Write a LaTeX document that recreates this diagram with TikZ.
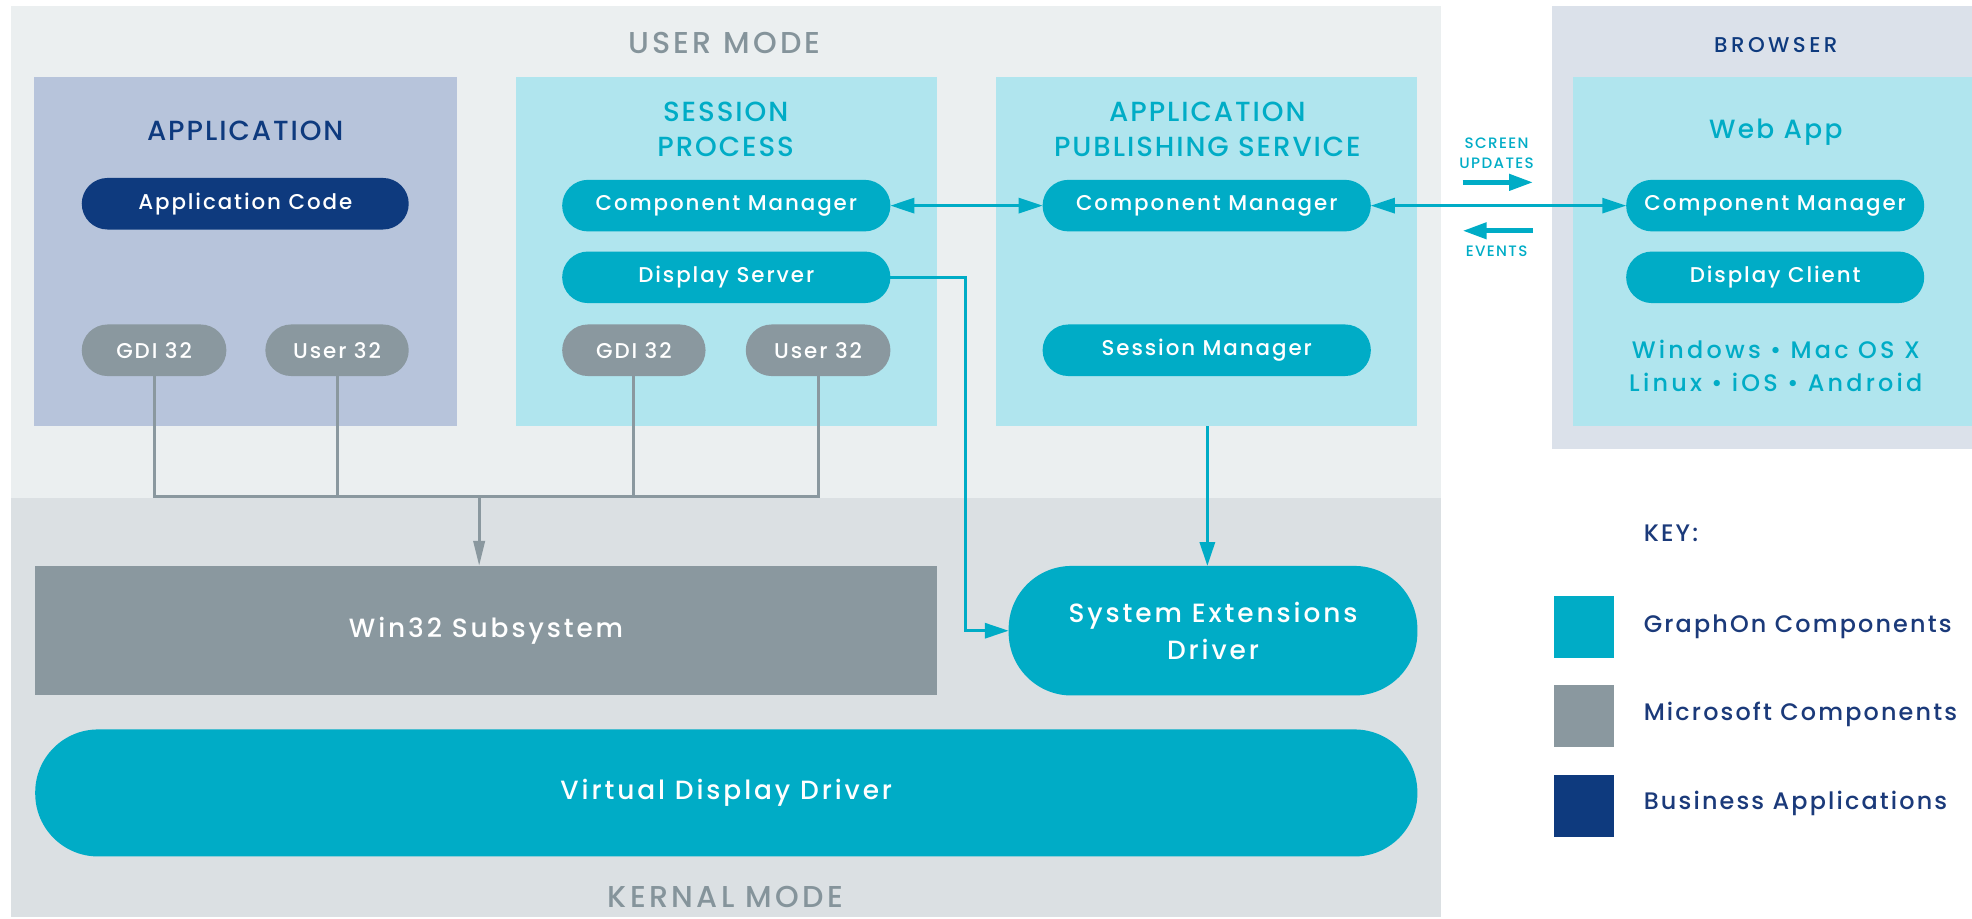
\documentclass[tikz,border=0pt]{standalone}
\usepackage{fontspec}
\setmainfont{Poppins}
\newfontfamily\fmed{Poppins Medium}[LetterSpace=9]
\newfontfamily\fmedt{Poppins Medium}[LetterSpace=7]
\newfontfamily\fmedw{Poppins Medium}[LetterSpace=11]
\newfontfamily\fmedp{Poppins Medium}[LetterSpace=13.5]
\newfontfamily\fmedb{Poppins Medium}[LetterSpace=16]
\usetikzlibrary{arrows.meta}
\definecolor{usrbg}{HTML}{EBEFF0}
\definecolor{kerbg}{HTML}{DBE0E3}
\definecolor{appbg}{HTML}{B7C4DB}
\definecolor{navy}{HTML}{0E3A7E}
\definecolor{lcyan}{HTML}{B0E5EE}
\definecolor{gcyan}{HTML}{00ACC6}
\definecolor{mgray}{HTML}{8A989F}
\definecolor{brbg}{HTML}{DBE1EA}
\definecolor{modetxt}{HTML}{85949B}
\definecolor{dtxt}{HTML}{1B3A7A}
\newcommand\pilltxt{\fmed\fontsize{17}{20}\selectfont}
\newcommand\titletxt{\fmedt\fontsize{22}{28}\selectfont}
\newcommand\modetxtf{\fmedw\fontsize{24}{28}\selectfont}
\newcommand\bigtxt{\fmedw\fontsize{21}{29}\selectfont}
\newcommand\smalltxt{\fmed\fontsize{12}{16}\selectfont}
\newcommand\keytxt{\fmed\fontsize{19}{24}\selectfont}
\begin{document}
\begin{tikzpicture}[x=1pt,y=-1pt,
  area/.style={rectangle,inner sep=0pt,outer sep=0pt,draw=none},
  pill/.style={rectangle,rounded corners=20.5pt,inner sep=0pt,outer sep=0pt,
    minimum height=41pt,text=white,font=\pilltxt},
  bigpill/.style={rectangle,rounded corners=50pt,inner sep=0pt,outer sep=0pt,
    fill=gcyan,text=white,font=\bigtxt,align=center},
  lbl/.style={inner sep=0pt,outer sep=0pt,align=center},
  garrow/.style={draw=mgray,line width=2.4pt,-{Triangle[length=20pt,width=9pt]}},
  gline/.style={draw=mgray,line width=2.4pt},
  carrow/.style={draw=gcyan,line width=2.4pt,-{Triangle[length=19pt,width=12pt]}},
  cdarrow/.style={draw=gcyan,line width=2.2pt,{Triangle[length=19pt,width=12pt]}-{Triangle[length=19pt,width=12pt]}},
  flowarrow/.style={draw=gcyan,line width=3.8pt,-{Triangle[length=19pt,width=12.5pt]}},
]
\useasboundingbox (0,0) rectangle (1568,730);
% mode backgrounds
\node[area,fill=usrbg,minimum width=1137pt,minimum height=391pt,anchor=north west] (usr) at (9,5) {};
\node[area,fill=kerbg,minimum width=1137pt,minimum height=333pt,anchor=north west] (ker) at (9,396) {};
\node[area,fill=brbg,minimum width=334pt,minimum height=352pt,anchor=north west] (brw) at (1234,5) {};
% component areas
\node[area,fill=appbg,minimum width=336pt,minimum height=278pt,anchor=north west] (app) at (27,61) {};
\node[area,fill=lcyan,minimum width=335pt,minimum height=278pt,anchor=north west] (sess) at (410,61) {};
\node[area,fill=lcyan,minimum width=335pt,minimum height=278pt,anchor=north west] (aps) at (792,61) {};
\node[area,fill=lcyan,minimum width=317pt,minimum height=278pt,anchor=north west] (web) at (1251,61) {};
% mode labels
\node[lbl,font=\modetxtf,text=modetxt] (usrlbl) at (576,34) {USER MODE};
\node[lbl,font=\modetxtf,text=modetxt] (kerlbl) at (577,713) {KERNAL MODE};
% area titles
\node[lbl,font=\titletxt,text=navy] (apptitle) at (195,104) {APPLICATION};
\node[lbl,font=\titletxt,text=gcyan] (sesstitle) at (577,103) {SESSION\\PROCESS};
\node[lbl,font=\titletxt,text=gcyan] (apstitle) at (960,103) {APPLICATION\\PUBLISHING SERVICE};
\node[lbl,font=\fmedb\fontsize{17}{20}\selectfont,text=navy] (brwtitle) at (1412,36) {BROWSER};
\node[lbl,font=\fmed\fontsize{21}{24}\selectfont,text=gcyan] (webtitle) at (1412,105) {Web App};
% application pills
\node[pill,fill=navy,minimum width=260pt] (appcode) at (195,162) {Application Code};
\node[pill,fill=mgray,minimum width=115pt] (gdia) at (122.5,278.5) {GDI 32};
\node[pill,fill=mgray,minimum width=114pt] (usera) at (268,278.5) {User 32};
% session pills
\node[pill,fill=gcyan,minimum width=261pt] (scm) at (577.5,163.5) {Component Manager};
\node[pill,fill=gcyan,minimum width=261pt] (ds) at (577.5,220.5) {Display Server};
\node[pill,fill=mgray,minimum width=114pt] (gdis) at (504,278.5) {GDI 32};
\node[pill,fill=mgray,minimum width=115pt] (users) at (650.5,278.5) {User 32};
% APS pills
\node[pill,fill=gcyan,minimum width=261pt] (acm) at (959.5,163.5) {Component Manager};
\node[pill,fill=gcyan,minimum width=261pt] (sm) at (959.5,278.5) {Session Manager};
% web pills
\node[pill,fill=gcyan,minimum width=237pt] (wcm) at (1411.5,163.5) {Component Manager};
\node[pill,fill=gcyan,minimum width=237pt] (dc) at (1411.5,220.5) {Display Client};
\node[lbl,font=\fmedp\fontsize{19}{26}\selectfont,text=gcyan] (platforms) at (1412,291) {Windows • Mac OS X\\Linux • iOS • Android};
% kernel blocks
\node[area,fill=mgray,minimum width=717pt,minimum height=103pt,text=white,font=\bigtxt] (w32) at (386.5,501.5) {Win32 Subsystem};
\node[bigpill,minimum width=325pt,minimum height=103pt] (sed) at (964.5,501.5) {System Extensions\\Driver};
\node[bigpill,minimum width=1099pt,minimum height=101pt] (vdd) at (577.5,630.5) {Virtual Display Driver};
% flow labels
\node[lbl,font=\smalltxt,text=gcyan] (scrupd) at (1190,122) {SCREEN\\UPDATES};
\node[lbl,font=\smalltxt,text=gcyan] (events) at (1190,200) {EVENTS};
\coordinate (su1) at (1163,145);
\coordinate (su2) at (1219,145);
\coordinate (ev1) at (1219,183.5);
\coordinate (ev2) at (1163,183.5);
\draw[flowarrow] (su1) -- (su2);
\draw[flowarrow] (ev1) -- (ev2);
% gray connectors
\coordinate (jn) at (381,395);
\draw[gline] (gdia.south) -- (gdia.south |- jn) -- (users.south |- jn) -- (users.south);
\draw[gline] (usera.south) -- (usera.south |- jn);
\draw[gline] (gdis.south) -- (gdis.south |- jn);
\draw[garrow] (jn) -- (jn |- w32.north);
% cyan connectors
\draw[cdarrow] (scm.east) -- (acm.west);
\draw[cdarrow] (acm.east) -- (wcm.west);
\draw[carrow] (ds.east) -- ++(60,0) |- (sed.west);
\draw[carrow] ([xshift=0.5pt]aps.south) -- ([xshift=0.5pt]aps.south |- sed.north);
% key
\node[lbl,font=\keytxt,text=dtxt,anchor=west] (keyt) at (1307,424) {KEY:};
\node[area,fill=gcyan,minimum width=47pt,minimum height=49pt] (k1) at (1259.5,498.5) {};
\node[area,fill=mgray,minimum width=47pt,minimum height=49pt] (k2) at (1259.5,569.5) {};
\node[area,fill=navy,minimum width=47pt,minimum height=49pt] (k3) at (1259.5,641) {};
\node[lbl,font=\keytxt,text=dtxt,anchor=west] (k1l) at (1307,498) {GraphOn Components};
\node[lbl,font=\keytxt,text=dtxt,anchor=west] (k2l) at (1307,568) {Microsoft Components};
\node[lbl,font=\keytxt,text=dtxt,anchor=west] (k3l) at (1307,639) {Business Applications};
\end{tikzpicture}
\end{document}
